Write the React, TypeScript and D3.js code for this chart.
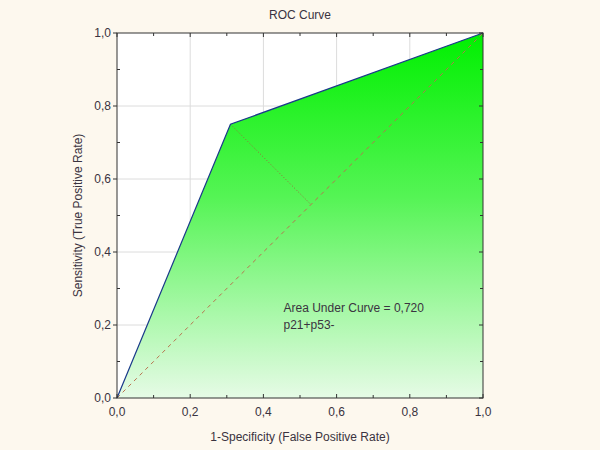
import React from 'react';
import * as d3 from 'd3';

// ROC points (false positive rate, true positive rate)
const fpr = [0, 0.31, 1];
const tpr = [0, 0.75, 1];
const aucText = 'Area Under Curve = 0,720';
const markerLabel = 'p21+p53-';
const tickValues = [0, 0.2, 0.4, 0.6, 0.8, 1];
const minorTicks = [0.1, 0.3, 0.5, 0.7, 0.9];

const width = 600;
const height = 450;
const margin = { top: 33, right: 117, bottom: 52, left: 117 };
const font = 'Liberation Sans, Arial, sans-serif';
const textColor = '#3a3340';

const fmt = (v: number) => v.toFixed(1).replace('.', ',');

export default function App() {
  const x = d3.scaleLinear().domain([0, 1]).range([margin.left, width - margin.right]);
  const y = d3.scaleLinear().domain([0, 1]).range([height - margin.bottom, margin.top]);

  const pts: [number, number][] = fpr.map((f, i) => [f, tpr[i]]);
  const line = d3
    .line<[number, number]>()
    .x((d) => x(d[0]))
    .y((d) => y(d[1]));
  const area = d3
    .area<[number, number]>()
    .x((d) => x(d[0]))
    .y0(y(0))
    .y1((d) => y(d[1]));

  // perpendicular from the cutoff point to the chance diagonal
  const cut = pts[1];
  const foot = (cut[0] + cut[1]) / 2;

  return (
    <svg
      width={width}
      height={height}
      style={{ position: 'absolute', left: 0, top: 0, display: 'block' }}
    >
      <defs>
        <linearGradient id='fillGrad' x1='0' y1='0' x2='0' y2='1'>
          <stop offset='0%' stopColor='#00f000' />
          <stop offset='45%' stopColor='#55f455' />
          <stop offset='100%' stopColor='#e6fbe6' />
        </linearGradient>
      </defs>
      <rect width={width} height={height} fill='#fdf8ee' />
      <rect
        x={x(0)}
        y={y(1)}
        width={x(1) - x(0)}
        height={y(0) - y(1)}
        fill='#ffffff'
      />
      {/* grid */}
      {tickValues.slice(1, -1).map((t) => (
        <g key={'g' + t}>
          <line x1={x(t)} x2={x(t)} y1={y(0)} y2={y(1)} stroke='#dcdcdc' />
          <line x1={x(0)} x2={x(1)} y1={y(t)} y2={y(t)} stroke='#dcdcdc' />
        </g>
      ))}
      <path d={area(pts) || ''} fill='url(#fillGrad)' />
      <line
        x1={x(0)}
        y1={y(0)}
        x2={x(1)}
        y2={y(1)}
        stroke='#b8734f'
        strokeWidth={1}
        strokeDasharray='4,4'
      />
      <line
        x1={x(cut[0])}
        y1={y(cut[1])}
        x2={x(foot)}
        y2={y(foot)}
        stroke='#9a6a3a'
        strokeWidth={1}
        strokeDasharray='1,2'
      />
      <path d={line(pts) || ''} fill='none' stroke='#1a3a8a' strokeWidth={1.2} />
      {/* frame */}
      <rect
        x={x(0)}
        y={y(1)}
        width={x(1) - x(0)}
        height={y(0) - y(1)}
        fill='none'
        stroke='#333'
        strokeWidth={1}
      />
      {/* ticks */}
      {tickValues.map((t) => (
        <g key={'t' + t}>
          <line x1={x(t)} x2={x(t)} y1={y(0)} y2={y(0) - 4} stroke='#333' />
          <line x1={x(t)} x2={x(t)} y1={y(1)} y2={y(1) + 4} stroke='#333' />
          <line x1={x(0)} x2={x(0) - 4} y1={y(t)} y2={y(t)} stroke='#333' />
          <line x1={x(1)} x2={x(1) - 4} y1={y(t)} y2={y(t)} stroke='#333' />
          <text
            x={x(t)}
            y={y(0) + 18}
            textAnchor='middle'
            fontFamily={font}
            fontSize={12}
            fill={textColor}
          >
            {fmt(t)}
          </text>
          <text
            x={x(0) - 6}
            y={y(t) + 4}
            textAnchor='end'
            fontFamily={font}
            fontSize={12}
            fill={textColor}
          >
            {fmt(t)}
          </text>
        </g>
      ))}
      {minorTicks.map((t) => (
        <g key={'m' + t}>
          <line x1={x(t)} x2={x(t)} y1={y(0)} y2={y(0) - 3} stroke='#333' />
          <line x1={x(t)} x2={x(t)} y1={y(1)} y2={y(1) + 3} stroke='#333' />
          <line x1={x(0)} x2={x(0) + 3} y1={y(t)} y2={y(t)} stroke='#333' />
          <line x1={x(1)} x2={x(1) - 3} y1={y(t)} y2={y(t)} stroke='#333' />
        </g>
      ))}
      <text
        x={x(0.5)}
        y={19}
        textAnchor='middle'
        fontFamily={font}
        fontSize={12}
        fill={textColor}
      >
        ROC Curve
      </text>
      <text
        x={x(0.5)}
        y={441}
        textAnchor='middle'
        fontFamily={font}
        fontSize={12}
        fill={textColor}
      >
        1-Specificity (False Positive Rate)
      </text>
      <text
        transform={`translate(82,${y(0.5)}) rotate(-90)`}
        textAnchor='middle'
        fontFamily={font}
        fontSize={12}
        fill={textColor}
      >
        Sensitivity (True Positive Rate)
      </text>
      <text x={x(0.455)} y={y(0.235)} fontFamily={font} fontSize={12} fill={textColor}>
        {aucText}
      </text>
      <text x={x(0.455)} y={y(0.19)} fontFamily={font} fontSize={12} fill={textColor}>
        {markerLabel}
      </text>
    </svg>
  );
}
